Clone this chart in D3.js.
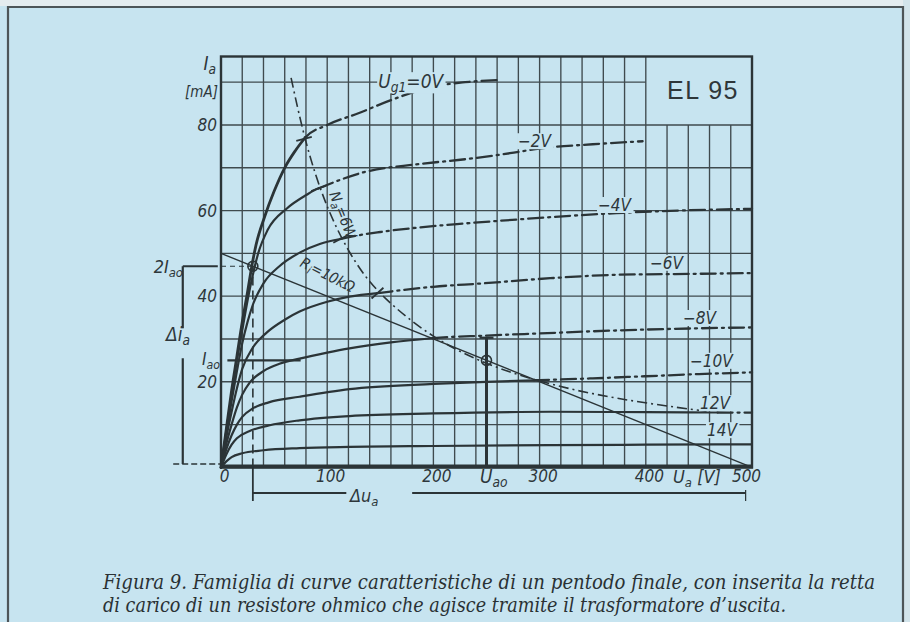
<!DOCTYPE html>
<html>
<head>
<meta charset="utf-8">
<script src="https://cdn.jsdelivr.net/npm/d3@7"></script>
<style>
  body { margin: 0; background: #c6e3ef; }
  svg { display: block; }
  .lab { font-family: "DejaVu Sans Condensed", "DejaVu Sans", sans-serif; font-style: italic; fill: #2e373b; }
</style>
</head>
<body>
<svg id="chart" width="910" height="622"></svg>
<script>
// Anode characteristic family of the EL 95 output pentode: Ia [mA] against Ua [V]
const gridBias = ["0", "-2", "-4", "-6", "-8", "-10", "12", "14"];

const iaG0  = [[0,0],[5,9],[10,18],[15,26],[20,34],[25,41],[29,47],[33,52],[41,58.5],[50,64.5],[60,70],[70,74],[79,77],[100,80],[130,82.8],[160,85.8],[200,89],[230,90],[262,90.5]];
const iaG2  = [[0,0],[5,8.5],[10,17],[15,25],[20,32],[25,39],[30,45],[35,50],[44,55.5],[62,60.5],[80,63.6],[92,65.2],[135,69],[184,70.8],[230,72],[272,73.4],[300,74.5],[350,75.5],[397,76.2]];
const iaG4  = [[0,0],[5,8],[10,15.5],[15,22.5],[20,29],[25,34],[30,38],[40,43],[55,47],[75,50.3],[93,52.2],[113,53.4],[150,55],[184,56],[230,57],[278,57.9],[330,58.8],[372,59.4],[430,60],[500,60.4]];
const iaG6  = [[0,0],[5,7],[10,13],[15,18.5],[20,23],[30,28],[43,31.5],[60,34.5],[74,36.4],[100,38.7],[121,39.9],[150,40.8],[200,42.2],[247,43],[310,44.2],[372,45],[440,45.2],[500,45.4]];
const iaG8  = [[0,0],[5,5.5],[10,10],[15,14],[20,17],[27,19.8],[40,22.5],[55,24.2],[74,25.4],[100,26.8],[121,27.8],[160,29.2],[200,30.2],[250,30.8],[300,31.3],[350,31.8],[400,32.2],[450,32.5],[500,32.7]];
const iaG10 = [[0,0],[5,4.2],[10,7.5],[15,10],[20,11.8],[30,13.8],[45,15.2],[74,16.5],[121,18.3],[200,19.5],[250,20],[300,20.4],[350,20.8],[400,21.3],[450,21.8],[500,22.2]];
const iaG12 = [[0,0],[5,3],[10,5.3],[15,6.8],[27,8.5],[45,9.8],[74,11],[121,12],[200,12.6],[310,13],[400,12.9],[500,12.8]];
const iaG14 = [[0,0],[5,1.4],[10,2.4],[20,3.3],[40,4],[74,4.5],[121,4.8],[200,5],[310,5.2],[400,5.3],[500,5.4]];

// Plate dissipation limit Na = 6 W (mA x V = 6000)
const naLimitW = 6;
const naCurve = [[66,91],[80,75],[100,60],[125,48],[150,40],[200,30],[250,24],[300,20],[350,17.1],[400,15],[460,13]];

// Load line Ri = 10 kOhm and the working points on it
const loadLine = [[0,50],[500,0]];
const workPoint = [250,25];
const swingTop = [30,47];

const xTicks = [0,100,200,300,400,500];
const yTicks = [20,40,60,80];

const svg = d3.select("#chart");
const ink = "#2b3437";
const paper = "#c7e4f0";
const x = d3.scaleLinear().domain([0,500]).range([221,752]);
const y = d3.scaleLinear().domain([0,96]).range([467.4,56.5]);

// page with its frame
svg.append("rect").attr("width",910).attr("height",622).attr("fill",paper);
svg.append("rect").attr("width",910).attr("height",6).attr("fill","#e4ecef");
svg.append("rect").attr("x",903).attr("width",7).attr("height",622).attr("fill","#d2e4eb");
svg.append("path").attr("d","M8,622 V7 H903 V622").attr("fill","none").attr("stroke","#4d5558").attr("stroke-width",2.2);

// grid, with the type box in the upper right corner left empty
const g = svg.append("g");
const boxV = 400, boxI = 80;
d3.range(20,500,20).forEach(v => {
  const top = v > boxV ? boxI : 96;
  g.append("line").attr("x1",x(v)).attr("x2",x(v)).attr("y1",y(0)).attr("y2",y(top))
    .attr("stroke","#3f4a4e").attr("stroke-width",1.35);
});
d3.range(10,96,10).forEach(i => {
  const right = i > boxI ? boxV : 500;
  g.append("line").attr("x1",x(0)).attr("x2",x(right)).attr("y1",y(i)).attr("y2",y(i))
    .attr("stroke","#3f4a4e").attr("stroke-width",1.35);
});
g.append("rect").attr("x",x(0)).attr("y",y(96)).attr("width",x(500)-x(0)).attr("height",y(0)-y(96))
  .attr("fill","none").attr("stroke",ink).attr("stroke-width",2.4);
g.append("line").attr("x1",x(0)-1).attr("x2",x(500)+1).attr("y1",y(0)-1).attr("y2",y(0)-1)
  .attr("stroke",ink).attr("stroke-width",4);

svg.append("text").attr("x",x(420)).attr("y",y(86)).text("EL 95")
  .attr("font-family","Liberation Sans, Arial, sans-serif").attr("font-size",25).attr("font-weight",400)
  .attr("fill","#2f3639").attr("letter-spacing",1.5);

// axes (labels only, the frame carries the lines)
const fontAxis = sel => sel.selectAll("text").attr("class","lab").attr("font-size",17);
svg.append("g").attr("transform",`translate(${x(0)},0)`)
  .call(d3.axisLeft(y).tickValues(yTicks).tickSize(0).tickPadding(4))
  .call(s => s.select(".domain").remove()).call(fontAxis);
svg.append("g").attr("transform",`translate(0,${y(0)})`)
  .call(d3.axisBottom(x).tickValues(xTicks).tickSize(0).tickPadding(3))
  .call(s => s.select(".domain").remove()).call(fontAxis)
  .call(s => s.selectAll(".tick text").attr("dx", d => d === 500 ? -6 : 3));

// split each characteristic at the dissipation limit: solid inside, dash-dot beyond
function splitAtLimit(pts) {
  const lim = naLimitW * 1000;
  for (let k = 1; k < pts.length; k++) {
    const [u0,i0] = pts[k-1], [u1,i1] = pts[k];
    if (u0*i0 <= lim && u1*i1 > lim) {
      let lo = 0, hi = 1;
      for (let n = 0; n < 30; n++) {
        const t = (lo+hi)/2, u = u0+(u1-u0)*t, i = i0+(i1-i0)*t;
        if (u*i > lim) hi = t; else lo = t;
      }
      const p = [u0+(u1-u0)*lo, i0+(i1-i0)*lo];
      return [pts.slice(0,k).concat([p]), [p].concat(pts.slice(k))];
    }
  }
  return [pts, []];
}
const line = d3.line().x(d => x(d[0])).y(d => y(d[1])).curve(d3.curveMonotoneX);
const curves = [iaG0, iaG2, iaG4, iaG6, iaG8, iaG10, iaG12, iaG14];
const cg = svg.append("g").attr("fill","none").attr("stroke",ink).attr("stroke-linecap","round");
const limitPoints = [];
curves.forEach((pts, k) => {
  const [solid, beyond] = splitAtLimit(pts);
  cg.append("path").attr("d", line(solid)).attr("stroke-width", k === 0 ? 2.8 : 2.2);
  if (beyond.length) {
    limitPoints.push(beyond[0]);
    cg.append("path").attr("d", line(beyond)).attr("stroke-width", 2.3).attr("stroke-dasharray", "15,5,2,5");
  }
});

// dissipation hyperbola
svg.append("path").attr("d", d3.line().x(d => x(d[0])).y(d => y(d[1])).curve(d3.curveBasis)(naCurve))
  .attr("fill","none").attr("stroke",ink).attr("stroke-width",1.6).attr("stroke-dasharray","10,4,2,4");
// short cross marks where the upper characteristics meet the limit
limitPoints.slice(0,4).forEach(p => {
  const px = x(p[0]), py = y(p[1]);
  const slope = (y(naLimitW*1000/(p[0]+1)) - py) / (x(p[0]+1) - px);
  const a = Math.atan(slope) + Math.PI/2, r = 8;
  svg.append("line").attr("x1",px-r*Math.cos(a)).attr("y1",py-r*Math.sin(a))
    .attr("x2",px+r*Math.cos(a)).attr("y2",py+r*Math.sin(a)).attr("stroke",ink).attr("stroke-width",1.8);
});

// load line
svg.append("path").attr("d", d3.line().x(d => x(d[0])).y(d => y(d[1]))(loadLine))
  .attr("fill","none").attr("stroke",ink).attr("stroke-width",1.4);

// operating point construction
const ops = svg.append("g").attr("fill","none").attr("stroke",ink);
ops.append("line").attr("x1",x(swingTop[0])).attr("x2",x(swingTop[0])).attr("y1",y(0)).attr("y2",y(swingTop[1]))
  .attr("stroke-width",1.6).attr("stroke-dasharray","9,5");
ops.append("line").attr("x1",x(0)).attr("x2",x(swingTop[0])).attr("y1",y(swingTop[1])).attr("y2",y(swingTop[1]))
  .attr("stroke-width",1.2).attr("stroke-dasharray","5,4");
ops.append("line").attr("x1",x(workPoint[0])).attr("x2",x(workPoint[0])).attr("y1",y(0)).attr("y2",y(30.3))
  .attr("stroke-width",3);
ops.append("line").attr("x1",x(workPoint[0])-7).attr("x2",x(workPoint[0])+7).attr("y1",y(30.3)).attr("y2",y(30.3))
  .attr("stroke-width",2.2);
ops.append("line").attr("x1",x(6)).attr("x2",x(75)).attr("y1",y(workPoint[1])).attr("y2",y(workPoint[1]))
  .attr("stroke-width",2.4);
[workPoint, swingTop].forEach(p => ops.append("circle").attr("cx",x(p[0])).attr("cy",y(p[1])).attr("r",5).attr("stroke-width",1.6));

// delta-ia bracket left of the axis
const xb = x(-36);
ops.append("line").attr("x1",xb).attr("x2",x(-3)).attr("y1",y(swingTop[1])).attr("y2",y(swingTop[1])).attr("stroke-width",1.8);
ops.append("line").attr("x1",xb).attr("x2",xb).attr("y1",y(swingTop[1])).attr("y2",y(32.5)).attr("stroke-width",2.2);
ops.append("line").attr("x1",xb).attr("x2",xb).attr("y1",y(25.5)).attr("y2",y(0.8)).attr("stroke-width",2.2);
ops.append("line").attr("x1",x(-45)).attr("x2",x(0)).attr("y1",y(0.8)).attr("y2",y(0.8)).attr("stroke-width",1.4).attr("stroke-dasharray","6,3");

// delta-ua bracket under the axis
const yb = 493;
ops.append("line").attr("x1",x(swingTop[0])).attr("x2",x(swingTop[0])).attr("y1",y(0)).attr("y2",yb+8).attr("stroke-width",1.8);
ops.append("line").attr("x1",x(swingTop[0])).attr("x2",x(118)).attr("y1",yb).attr("y2",yb).attr("stroke-width",1.8);
ops.append("line").attr("x1",x(180)).attr("x2",x(494)).attr("y1",yb).attr("y2",yb).attr("stroke-width",1.8);
ops.append("line").attr("x1",x(494)).attr("x2",x(494)).attr("y1",yb-3).attr("y2",yb+8).attr("stroke-width",1.2);

// text labels
function label(px, py, parts, size, anchor) {
  const t = svg.append("text").attr("class","lab").attr("x",px).attr("y",py)
    .attr("font-size",size).attr("text-anchor",anchor || "start");
  parts.forEach(p => {
    const s = t.append("tspan").text(p[0]);
    if (p[1] === "sub") s.attr("font-size",size*0.72).attr("dy",size*0.22);
    if (p[1] === "up") s.attr("dy",-size*0.22);
  });
  return t;
}
// axis titles
label(x(0)-5, 70, [["I"],["a","sub"]], 19, "end");
label(x(0)-3, 97, [["[mA]"]], 15, "end");
label(673, 483, [["U"],["a","sub"],[" [V]","up"]], 18);
label(480, 483, [["U"],["ao","sub"]], 19);
label(350, 502, [["Δu"],["a","sub"]], 18);
label(183, 273, [["2I"],["ao","sub"]], 18, "end");
label(166, 341, [["Δi"],["a","sub"]], 19);
label(220, 365, [["I"],["ao","sub"]], 17, "end");

// curve labels, placed at the curve ends
const ugLabels = [
  [148, 88.6, [["U"],["g1","sub"],["=0V","up"]]],
  [279.7, 74.8, [["−2V"]]],
  [355, 59.9, [["−4V"]]],
  [404, 46.4, [["−6V"]]],
  [435, 33.5, [["−8V"]]],
  [441.6, 23.5, [["−10V"]]],
  [451, 13.6, [["12V"]]],
  [457.6, 7.3, [["14V"]]]
];
ugLabels.forEach((d, k) => {
  const t = label(x(d[0]), y(d[1]), d[2], k === 0 ? 19 : 17);
  const bb = t.node().getBBox();
  svg.insert("rect", () => t.node()).attr("x",bb.x-1).attr("y",bb.y+2).attr("width",bb.width+2).attr("height",bb.height-4)
    .attr("fill",paper);
});

const na = svg.append("text").attr("class","lab").attr("font-size",15)
  .attr("transform",`translate(${329},${194}) rotate(68)`);
na.append("tspan").text("N");
na.append("tspan").text("a").attr("font-size",11).attr("dy",3);
na.append("tspan").text("=6W").attr("dy",-3);

const ri = svg.append("text").attr("class","lab").attr("font-size",15)
  .attr("transform",`translate(${299},${266}) rotate(27)`);
ri.append("tspan").text("R");
ri.append("tspan").text("i").attr("font-size",11).attr("dy",3);
ri.append("tspan").text("=10kΩ").attr("dy",-3);

// caption
const cap = svg.append("g").attr("font-family","DejaVu Serif Condensed, DejaVu Serif, serif")
  .attr("font-style","italic").attr("font-size",19.5).attr("fill","#2a3134");
cap.append("text").attr("x",103).attr("y",589).attr("textLength",772).attr("lengthAdjust","spacingAndGlyphs")
  .text("Figura 9. Famiglia di curve caratteristiche di un pentodo finale, con inserita la retta");
cap.append("text").attr("x",103).attr("y",612).attr("textLength",683).attr("lengthAdjust","spacingAndGlyphs")
  .text("di carico di un resistore ohmico che agisce tramite il trasformatore d’uscita.");
</script>
</body>
</html>
